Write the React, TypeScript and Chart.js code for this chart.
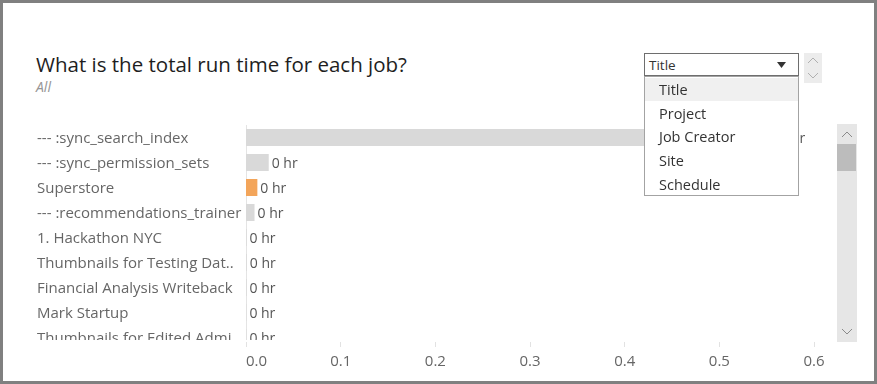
import React, { useEffect, useRef } from 'react';
import { Chart, registerables } from 'chart.js';

Chart.register(...registerables);

// ---------- data ----------
const jobNames = [
  '--- :sync_search_index',
  '--- :sync_permission_sets',
  'Superstore',
  '--- :recommendations_trainer',
  '1. Hackathon NYC',
  'Thumbnails for Testing Dat..',
  'Financial Analysis Writeback',
  'Mark Startup',
  'Thumbnails for Edited Admi..',
];
const runTimeHours = [0.56, 0.024, 0.012, 0.009, 0.0006, 0.0008, 0.0006, 0.0004, 0.0004];
const runTimeLabels = ['1 hr', '0 hr', '0 hr', '0 hr', '0 hr', '0 hr', '0 hr', '0 hr', '0 hr'];
const barColors = ['#d9d9d9', '#d9d9d9', '#f3a55a', '#d9d9d9', '#d9d9d9', '#d9d9d9', '#d9d9d9', '#d9d9d9', '#d9d9d9'];
const axisTickValues = [0, 0.1, 0.2, 0.3, 0.4, 0.5, 0.6];
const axisTickLabels = ['0.0', '0.1', '0.2', '0.3', '0.4', '0.5', '0.6'];
const axisMax = 0.62;
const groupByOptions = ['Title', 'Project', 'Job Creator', 'Site', 'Schedule'];
const selectedGroupBy = 'Title';
const chartTitle = 'What is the total run time for each job?';
const chartSubtitle = 'All';

const FONT = '"Open Sans"';

const valueLabelPlugin = {
  id: 'valueLabels',
  afterDatasetsDraw(chart: any) {
    const { ctx } = chart;
    const meta = chart.getDatasetMeta(0);
    ctx.save();
    ctx.font = `14px ${FONT}`;
    ctx.fillStyle = '#555555';
    ctx.textAlign = 'left';
    ctx.textBaseline = 'middle';
    meta.data.forEach((bar: any, i: number) => {
      ctx.fillText(runTimeLabels[i], bar.x + 3, bar.y + 1.5);
    });
    ctx.restore();
  },
};

function Chevron({ up, x, y, color }: { up: boolean; x: number; y: number; color: string }) {
  return (
    <svg width={12} height={7} style={{ position: 'absolute', left: x, top: y }}>
      <polyline
        points={up ? '1,6 6,1 11,6' : '1,1 6,6 11,1'}
        fill="none"
        stroke={color}
        strokeWidth={1}
      />
    </svg>
  );
}

export default function App() {
  const barsRef = useRef<HTMLCanvasElement>(null);
  const axisRef = useRef<HTMLCanvasElement>(null);

  useEffect(() => {
    const bars = new Chart(barsRef.current as HTMLCanvasElement, {
      type: 'bar',
      data: {
        labels: jobNames,
        datasets: [
          {
            data: runTimeHours,
            backgroundColor: barColors,
            borderWidth: 0,
            categoryPercentage: 0.8,
            barPercentage: 0.85,
          },
        ],
      },
      options: {
        indexAxis: 'y',
        responsive: false,
        animation: false,
        layout: { padding: { left: 37, right: 3, top: 0, bottom: 0 } },
        plugins: { legend: { display: false }, tooltip: { enabled: false } },
        scales: {
          x: { type: 'linear', display: false, min: 0, max: axisMax },
          y: {
            grid: { display: false },
            border: { display: true, color: '#e4e4e4', width: 1 },
            ticks: {
              crossAlign: 'far',
              padding: 0,
              labelOffset: 1.5,
              autoSkip: false,
              color: '#666666',
              font: { family: FONT, size: 15 },
            },
            afterFit: (s: any) => {
              s.width = 209;
              s.paddingTop = 0;
              s.paddingBottom = 0;
            },
          },
        },
      } as any,
      plugins: [valueLabelPlugin],
    });

    const axis = new Chart(axisRef.current as HTMLCanvasElement, {
      type: 'scatter',
      data: { datasets: [] },
      options: {
        responsive: false,
        animation: false,
        layout: { padding: { left: 246, right: 3, top: 0, bottom: 0 } },
        plugins: { legend: { display: false }, tooltip: { enabled: false } },
        scales: {
          x: {
            type: 'linear',
            position: 'bottom',
            min: 0,
            max: axisMax,
            afterBuildTicks: (s: any) => {
              s.ticks = [...axisTickValues, axisMax].map((value) => ({ value }));
            },
            afterFit: (s: any) => {
              s.height = 38;
              s.paddingLeft = 0;
              s.paddingRight = 0;
            },
            ticks: {
              align: 'inner',
              autoSkip: false,
              maxRotation: 0,
              padding: 6,
              color: '#666666',
              font: { family: FONT, size: 15 },
              callback: (_v: any, i: number) => (i < axisTickLabels.length ? axisTickLabels[i] : ''),
            },
            grid: {
              drawOnChartArea: false,
              drawTicks: true,
              tickLength: 5,
              tickColor: (c: any) => (c.index < axisTickValues.length ? '#e2e2e2' : 'rgba(0,0,0,0)'),
            },
            border: { display: false },
          },
          y: { display: false },
        },
      } as any,
    });

    return () => {
      bars.destroy();
      axis.destroy();
    };
  }, []);

  return (
    <div
      style={{
        position: 'fixed',
        left: 0,
        top: 0,
        width: 877,
        height: 384,
        background: '#ffffff',
        overflow: 'hidden',
        fontFamily: FONT,
      }}
    >
      {/* title */}
      <div
        style={{
          position: 'absolute',
          left: 36,
          top: 51,
          fontSize: 20.5,
          lineHeight: '26px',
          fontWeight: 500,
          color: '#1e1e1e',
          whiteSpace: 'nowrap',
        }}
      >
        {chartTitle}
      </div>
      <div
        style={{
          position: 'absolute',
          left: 36,
          top: 78,
          fontSize: 14,
          lineHeight: '18px',
          fontStyle: 'italic',
          color: '#959595',
        }}
      >
        {chartSubtitle}
      </div>

      {/* bars (scrolling pane) */}
      <div style={{ position: 'absolute', left: 0, top: 125, width: 836, height: 215, overflow: 'hidden' }}>
        <canvas ref={barsRef} width={836} height={225} style={{ display: 'block' }} />
      </div>

      {/* x axis */}
      <canvas
        ref={axisRef}
        width={836}
        height={50}
        style={{ position: 'absolute', left: 0, top: 330, display: 'block' }}
      />

      {/* vertical scroll bar */}
      <div style={{ position: 'absolute', left: 837, top: 124, width: 20, height: 218, background: '#e6e6e6' }} />
      <div style={{ position: 'absolute', left: 837, top: 144, width: 19, height: 27, background: '#bcbcbc' }} />
      <Chevron up={true} x={841} y={131} color="#8a8a8a" />
      <Chevron up={false} x={841} y={328} color="#8a8a8a" />

      {/* parameter dropdown */}
      <div
        style={{
          position: 'absolute',
          left: 644,
          top: 53,
          width: 155,
          height: 23,
          boxSizing: 'border-box',
          border: '1px solid #6e6e6e',
          background: '#ffffff',
        }}
      >
        <div style={{ position: 'absolute', left: 4, top: 1.5, fontSize: 13.5, lineHeight: '19px', color: '#333333' }}>
          {selectedGroupBy}
        </div>
        <svg width={9} height={6} style={{ position: 'absolute', left: 132, top: 8 }}>
          <polygon points="0,0 9,0 4.5,6" fill="#333333" />
        </svg>
      </div>
      <div
        style={{
          position: 'absolute',
          left: 644,
          top: 76,
          width: 155,
          height: 120,
          boxSizing: 'border-box',
          border: '1px solid #a3a3a3',
          background: '#ffffff',
        }}
      >
        {groupByOptions.map((opt, i) => (
          <div
            key={opt}
            style={{
              position: 'absolute',
              left: 0,
              top: 1 + i * 23.7,
              width: 153,
              height: 23,
              background: opt === selectedGroupBy ? '#f0f0f0' : 'transparent',
            }}
          >
            <div style={{ position: 'absolute', left: 14, top: 1, fontSize: 14.5, lineHeight: '21px', color: '#333333' }}>
              {opt}
            </div>
          </div>
        ))}
      </div>

      {/* spinner */}
      <div style={{ position: 'absolute', left: 804, top: 53, width: 18, height: 30, background: '#ececec' }} />
      <Chevron up={true} x={807} y={57} color="#b0b0b0" />
      <Chevron up={false} x={807} y={72} color="#b0b0b0" />

      {/* frame */}
      <div
        style={{
          position: 'absolute',
          left: 0,
          top: 0,
          width: 877,
          height: 384,
          boxSizing: 'border-box',
          border: '3px solid #808080',
          pointerEvents: 'none',
        }}
      />
    </div>
  );
}
